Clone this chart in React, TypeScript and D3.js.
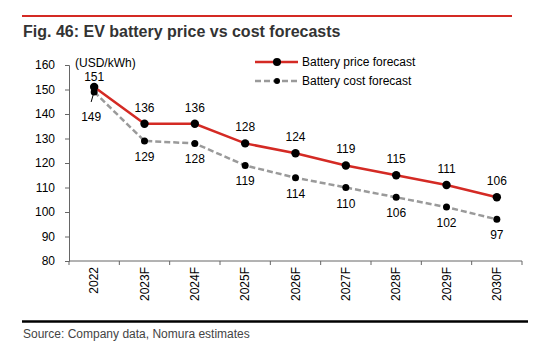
import React, { useRef, useEffect } from "react";
import * as d3 from "d3";

const years = ["2022", "2023F", "2024F", "2025F", "2026F", "2027F", "2028F", "2029F", "2030F"];
const priceForecast = [151, 136, 136, 128, 124, 119, 115, 111, 106];
const costForecast = [149, 129, 128, 119, 114, 110, 106, 102, 97];
const yTicks = [80, 90, 100, 110, 120, 130, 140, 150, 160];

const red = "#d42a24";
const grey = "#9a9a9a";
const font = "Arial, 'Liberation Sans', sans-serif";

const App: React.FC = () => {
  const ref = useRef<SVGSVGElement | null>(null);

  useEffect(() => {
    if (!ref.current) return;
    const svg = d3.select(ref.current);
    svg.selectAll("*").remove();

    const left = 69, right = 522, top = 65, bottom = 261;

    const x = d3.scaleBand<string>().domain(years).range([left, right]);
    const y = d3.scaleLinear().domain([80, 160]).range([bottom, top]);
    const cx = (d: string) => x(d)! + x.bandwidth() / 2;

    // header / footer rules
    svg.append("line").attr("x1", 22).attr("x2", 512).attr("y1", 16).attr("y2", 16)
      .attr("stroke", red).attr("stroke-width", 2);
    svg.append("text").attr("x", 23).attr("y", 37).attr("font-family", font)
      .attr("font-weight", "bold").attr("font-size", 16).attr("fill", "#333")
      .text("Fig. 46: EV battery price vs cost forecasts");
    svg.append("line").attr("x1", 22).attr("x2", 528).attr("y1", 321.5).attr("y2", 321.5)
      .attr("stroke", "#000").attr("stroke-width", 2.5);
    svg.append("text").attr("x", 23).attr("y", 338).attr("font-family", font)
      .attr("font-size", 12).attr("fill", "#444")
      .text("Source: Company data, Nomura estimates");

    // y axis
    const gy = svg.append("g").attr("transform", `translate(${left},0)`)
      .call(d3.axisLeft(y).tickValues(yTicks).tickSize(4).tickPadding(10));
    gy.select(".domain").attr("stroke", "#666");
    gy.selectAll("line").attr("stroke", "#666");
    gy.selectAll("text").attr("font-family", font).attr("font-size", 12).attr("fill", "#000");

    // x axis
    const gx = svg.append("g").attr("transform", `translate(0,${bottom})`);
    gx.append("line").attr("x1", left).attr("x2", right).attr("stroke", "#666");
    gx.selectAll(".tk").data([...years.map(d => x(d)!), right]).join("line")
      .attr("x1", d => d).attr("x2", d => d).attr("y1", 0).attr("y2", 4).attr("stroke", "#666");
    gx.selectAll(".lbl").data(years).join("text")
      .attr("transform", d => `translate(${cx(d)},6) rotate(-90)`)
      .attr("text-anchor", "end").attr("dy", "0.35em")
      .attr("font-family", font).attr("font-size", 12).attr("fill", "#000")
      .text(d => d);

    svg.append("text").attr("x", 75).attr("y", 67).attr("font-family", font)
      .attr("font-size", 12).attr("fill", "#000").text("(USD/kWh)");

    const line = d3.line<number>().x((_, i) => cx(years[i])).y(d => y(d));

    svg.append("path").datum(costForecast).attr("d", line).attr("fill", "none")
      .attr("stroke", grey).attr("stroke-width", 2.5).attr("stroke-dasharray", "6,3");
    svg.append("path").datum(priceForecast).attr("d", line).attr("fill", "none")
      .attr("stroke", red).attr("stroke-width", 2.5);

    svg.append("g").selectAll("circle").data(costForecast).join("circle")
      .attr("cx", (_, i) => cx(years[i])).attr("cy", d => y(d)).attr("r", 3.5).attr("fill", "#000");
    svg.append("g").selectAll("circle").data(priceForecast).join("circle")
      .attr("cx", (_, i) => cx(years[i])).attr("cy", d => y(d)).attr("r", 4.2).attr("fill", "#000");

    // data labels
    svg.append("g").selectAll("text").data(priceForecast).join("text")
      .attr("x", (_, i) => cx(years[i])).attr("y", (d, i) => y(d) - (i === 0 ? 6.5 : 12))
      .attr("text-anchor", "middle").attr("font-family", font).attr("font-size", 12)
      .text(d => d);
    svg.append("g").selectAll("text").data(costForecast).join("text")
      .attr("x", (_, i) => cx(years[i]) - (i === 0 ? 3 : 0)).attr("y", (d, i) => y(d) + (i === 0 ? 29 : 20))
      .attr("text-anchor", "middle").attr("font-family", font).attr("font-size", 12)
      .text(d => d);
    // leader line for first cost label
    const x0 = cx(years[0]), y0 = y(costForecast[0]);
    svg.append("line").attr("x1", x0 - 1).attr("y1", y0 + 3).attr("x2", x0 - 3).attr("y2", y0 + 10)
      .attr("stroke", "#000").attr("stroke-width", 1);

    // legend
    const lg = svg.append("g").attr("font-family", font).attr("font-size", 12);
    lg.append("line").attr("x1", 255).attr("x2", 298).attr("y1", 62).attr("y2", 62)
      .attr("stroke", red).attr("stroke-width", 2.5);
    lg.append("circle").attr("cx", 277).attr("cy", 62).attr("r", 4).attr("fill", "#000");
    lg.append("text").attr("x", 302).attr("y", 62).attr("dy", "0.35em").text("Battery price forecast");
    lg.append("line").attr("x1", 255).attr("x2", 298).attr("y1", 81).attr("y2", 81)
      .attr("stroke", grey).attr("stroke-width", 2.5).attr("stroke-dasharray", "6,3");
    lg.append("circle").attr("cx", 277).attr("cy", 81).attr("r", 3).attr("fill", "#000");
    lg.append("text").attr("x", 302).attr("y", 81).attr("dy", "0.35em").text("Battery cost forecast");
  }, []);

  return (
    <svg ref={ref} width={539} height={363}
      style={{ position: "absolute", left: 0, top: 0, background: "#fff" }} />
  );
};

export default App;
